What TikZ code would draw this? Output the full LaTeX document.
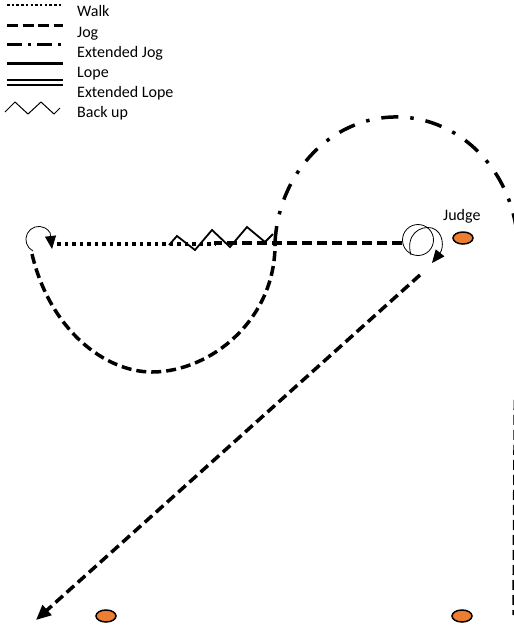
\documentclass[tikz,border=0pt]{standalone}
\usepackage{fontspec}
\setmainfont{Carlito}
\usetikzlibrary{arrows.meta,shapes.geometric}
\definecolor{cone}{HTML}{ED7D31}
\tikzset{
  lbl/.style={font=\fontsize{16}{19}\selectfont, inner sep=0pt, anchor=base west},
  walkline/.style={line width=3.5pt, dash pattern=on 3.5pt off 4pt},
  jogline/.style={line width=3.5pt, dash pattern=on 10pt off 5pt},
  xjogline/.style={line width=3.5pt, dash pattern=on 17pt off 12pt on 3.5pt off 12pt},
  backline/.style={line width=1.8pt, line join=miter},
  turnline/.style={line width=0.8pt},
  smalltip/.style={-{Triangle[length=13pt,width=11pt]}},
  bigtip/.style={-{Triangle[length=15pt,width=13pt]}},
  marker/.style={ellipse, draw=black, line width=1.5pt, fill=cone,
    minimum width=20pt, minimum height=12pt, inner sep=0pt},
}
\begin{document}
\begin{tikzpicture}[x=1pt,y=-1pt]
\useasboundingbox (0,0) rectangle (514,625);
\clip (0,0) rectangle (514,625);

% ---- legend ----
\coordinate (kWa) at (7,5);   \coordinate (kWb) at (63,5);
\coordinate (kJa) at (7,25);  \coordinate (kJb) at (63,25);
\coordinate (kXa) at (7,44);  \coordinate (kXb) at (66,44);
\coordinate (kLa) at (7,63);  \coordinate (kLb) at (63,63);
\coordinate (kEa) at (7,82.5);\coordinate (kEb) at (63,82.5);
\draw[line width=2.5pt, dash pattern=on 2.5pt off 2.2pt] (kWa) -- (kWb);
\draw[line width=3pt, dash pattern=on 11pt off 4.5pt] (kJa) -- (kJb);
\draw[line width=3pt, dash pattern=on 15pt off 6pt on 3pt off 6pt] (kXa) -- (kXb);
\draw[line width=3pt] (kLa) -- (kLb);
\draw[line width=2pt] ([yshift=-2.5pt]kEa) -- ([yshift=-2.5pt]kEb)
                      ([yshift=2.5pt]kEa) -- ([yshift=2.5pt]kEb);
\draw[line width=1pt] (5,112) -- (15,102) -- (28,114) -- (41,102) -- (54,114) -- (60,108);

\node[lbl] (tWalk) at (77,16)  {Walk};
\node[lbl] (tJog)  at (77,37)  {Jog};
\node[lbl] (tXJog) at (77,57)  {Extended Jog};
\node[lbl] (tLope) at (77,77)  {Lope};
\node[lbl] (tXLope) at (77,97) {Extended Lope};
\node[lbl] (tBack) at (77,117) {Back up};

% ---- cones and judge ----
\node[marker] (judge) at (463,238) {};
\node[marker] (coneL) at (106,616) {};
\node[marker] (coneR) at (462,616) {};
\node[lbl] (judgelbl) at (443,220) {Judge};

% ---- pattern ----
\coordinate (walkA) at (57,244);
\coordinate (walkB) at (215,244);
\coordinate (jogR)  at (402,243);
\coordinate (jogL)  at (214,243);
\coordinate (semiL) at (32,254);
\coordinate (semiR) at (275,243);
\coordinate (edgeT) at (515.3,400);
\coordinate (edgeB) at (514,615);
\coordinate (diagS) at (420,275);
\coordinate (diagE) at (36,620);
\coordinate (loopA) at (33,251);
\coordinate (loopTip) at (52,249);
\coordinate (spinA) at (411,255);
\coordinate (spinTip) at (432,263);

% walk
\draw[walkline] (walkA) -- (walkB);
% jog along the centre line
\draw[jogline] (jogR) -- (jogL);
% jog half circle
\draw[jogline] (semiL) .. controls (50,330) and (105,372) .. (152,372)
               .. controls (210,372) and (276,320) .. (semiR);
% extended jog
\draw[xjogline] (semiR) arc[start angle=183, end angle=362, x radius=121.5, y radius=133];
% jog down the long side
\draw[jogline] (edgeT) -- (edgeB);
% jog across the diagonal
\draw[jogline, bigtip] (diagS) -- (diagE);
% back up
\draw[backline] (169,245) -- (177,236) -- (195,250) -- (212,230) -- (230,247)
                -- (247,227) -- (265,242) -- (273,234);
% turn on the left end
\draw[turnline, smalltip] (loopA) arc[start angle=117, end angle=330, radius=13] -- (loopTip);
% spin beside the judge
\draw[turnline] (418,240) circle[radius=15.5];
\draw[turnline, smalltip] (spinA) .. controls (405,235) and (420,225) .. (432,228)
                          .. controls (444,232) and (444,248) .. (spinTip);
\end{tikzpicture}
\end{document}
